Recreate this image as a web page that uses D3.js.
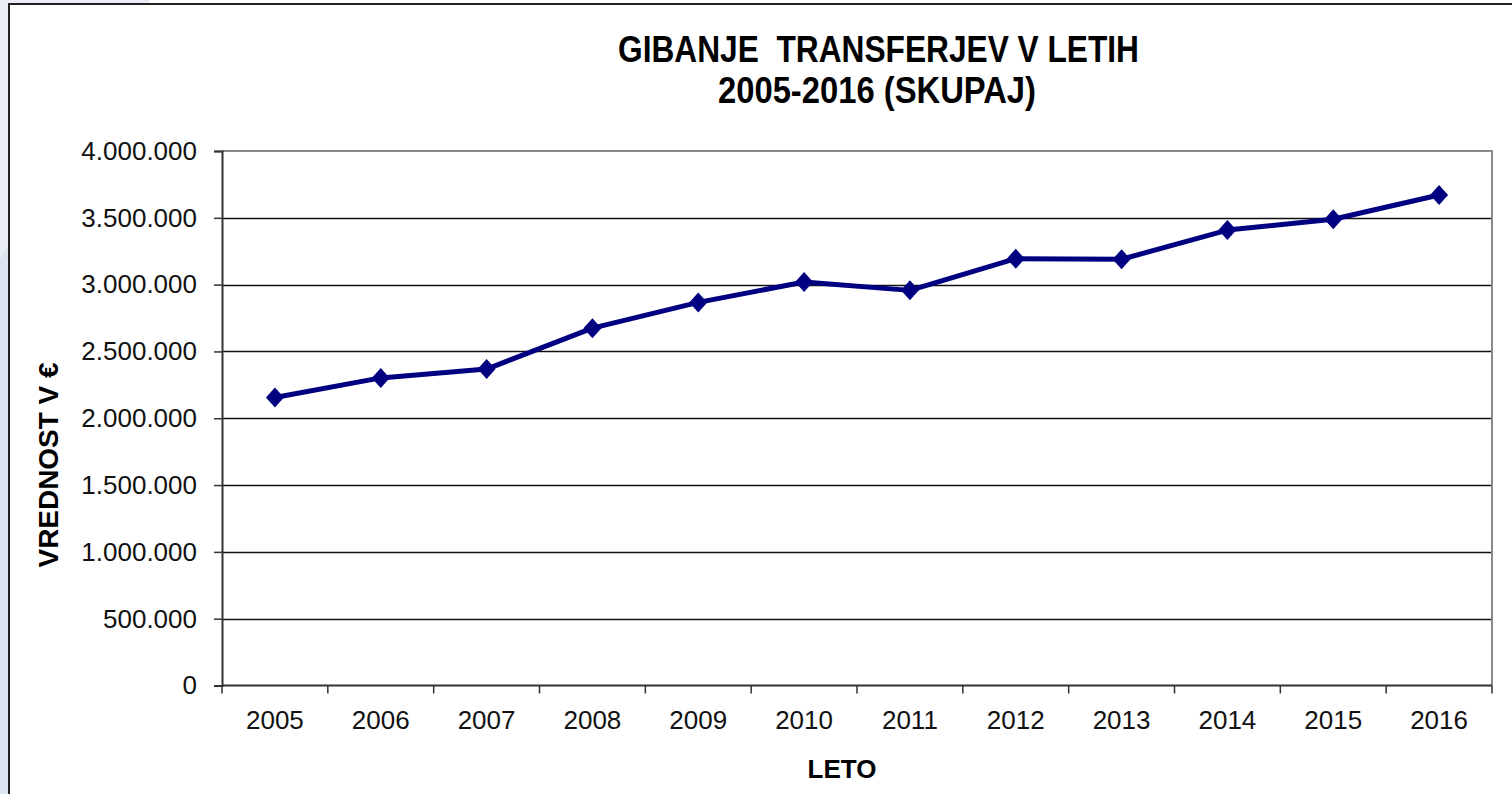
<!DOCTYPE html>
<html>
  <head>
    <meta charset="utf-8" />
    <title>Gibanje transferjev</title>
    <script src="https://d3js.org/d3.v7.min.js"></script>
    <style>
        body {
            margin: 0;
            background: #ffffff;
        }
        text {
            font-family: "Liberation Sans", Arial, sans-serif;
        }
    </style>
  </head>
  <body>
    <svg id="chart"></svg>

    <script>
        var years = ["2005", "2006", "2007", "2008", "2009", "2010", "2011", "2012", "2013", "2014", "2015", "2016"];
        var transfers = [2155000, 2302000, 2368000, 2674000, 2867000, 3020000, 2957000, 3194000, 3190000, 3408000, 3489000, 3671000];
        var yTicks = [0, 500000, 1000000, 1500000, 2000000, 2500000, 3000000, 3500000, 4000000];

        var width = 1512;
        var height = 794;
        var margin = {top: 151, right: 20, bottom: 108, left: 222};
        var plotRight = 1492;
        var plotBottom = 685.5;

        var svg = d3.select("#chart").attr("width", width).attr("height", height);

        // slide background strip and chart frame
        svg.append("rect").attr("x", 0).attr("y", 0).attr("width", 9).attr("height", height).attr("fill", "#dde5f1");
        svg.append("path").attr("d", "M0,0 L150,0 L0,260 Z").attr("fill", "#e8edf6");
        svg.append("rect").attr("x", 9).attr("y", 4).attr("width", width).attr("height", height)
            .attr("fill", "#fff").attr("stroke", "#222").attr("stroke-width", 2);

        var locale = d3.formatLocale({decimal: ",", thousands: ".", grouping: [3], currency: ["", "€"]});
        var fmt = locale.format(",");

        var x = d3.scaleBand().domain(years).range([margin.left, plotRight]);
        var y = d3.scaleLinear().domain([0, 4000000]).range([plotBottom, margin.top]);

        // gridlines
        svg.append("g").selectAll("line").data(yTicks.slice(1, -1)).enter().append("line")
            .attr("x1", margin.left).attr("x2", plotRight)
            .attr("y1", function(d){ return Math.round(y(d)) + 0.5; })
            .attr("y2", function(d){ return Math.round(y(d)) + 0.5; })
            .attr("stroke", "#111").attr("stroke-width", 1.3);

        // plot border top/right
        svg.append("path")
            .attr("d", "M" + margin.left + "," + y(4000000) + " H" + plotRight + " V" + plotBottom)
            .attr("fill", "none").attr("stroke", "#8a8a8a").attr("stroke-width", 2);

        // y axis
        var yAxis = svg.append("g").attr("transform", "translate(" + margin.left + ",0)")
            .call(d3.axisLeft(y).tickValues(yTicks).tickSize(8).tickPadding(17).tickFormat(fmt));
        yAxis.select(".domain").attr("stroke", "#333").attr("stroke-width", 2);
        yAxis.selectAll(".tick line").attr("stroke", "#333").attr("stroke-width", 1.5);
        yAxis.selectAll("text").attr("font-size", 26).attr("fill", "#111")
            .attr("font-family", "'Liberation Sans', Arial, sans-serif");

        // x axis
        var xAxis = svg.append("g").attr("transform", "translate(0," + plotBottom + ")");
        xAxis.append("line").attr("x1", margin.left).attr("x2", plotRight)
            .attr("stroke", "#333").attr("stroke-width", 2);
        var bounds = years.map(function(d){ return x(d); }).concat([plotRight]);
        xAxis.selectAll(".xt").data(bounds).enter().append("line").attr("class", "xt")
            .attr("x1", function(d){ return d; }).attr("x2", function(d){ return d; })
            .attr("y1", 0).attr("y2", 8).attr("stroke", "#333").attr("stroke-width", 1.5);
        xAxis.selectAll(".xl").data(years).enter().append("text").attr("class", "xl")
            .attr("x", function(d){ return x(d) + x.bandwidth() / 2; })
            .attr("y", 43).attr("text-anchor", "middle")
            .attr("font-size", 26).attr("fill", "#111")
            .text(function(d){ return d; });

        // line
        var line = d3.line()
            .x(function(d, i){ return x(years[i]) + x.bandwidth() / 2; })
            .y(function(d){ return y(d); });
        svg.append("path").datum(transfers).attr("d", line)
            .attr("fill", "none").attr("stroke", "#000080").attr("stroke-width", 5)
            .attr("stroke-linejoin", "round");

        // diamond markers
        svg.append("g").selectAll("path").data(transfers).enter().append("path")
            .attr("transform", function(d, i){
                return "translate(" + (x(years[i]) + x.bandwidth() / 2) + "," + y(d) + ")";
            })
            .attr("d", "M0,-10 L9,0 L0,10 L-9,0 Z")
            .attr("fill", "#000080");

        // titles (condensed bold like the original)
        var title = svg.append("g").attr("font-weight", "bold").attr("font-size", 36).attr("fill", "#000");
        title.append("text").attr("x", 618).attr("y", 62).attr("textLength", 521)
            .attr("lengthAdjust", "spacingAndGlyphs").attr("xml:space", "preserve")
            .text("GIBANJE  TRANSFERJEV V LETIH");
        title.append("text").attr("x", 718).attr("y", 103).attr("textLength", 318)
            .attr("lengthAdjust", "spacingAndGlyphs")
            .text("2005-2016 (SKUPAJ)");

        svg.append("text").attr("transform", "translate(58,465) rotate(-90)")
            .attr("text-anchor", "middle").attr("font-weight", "bold").attr("font-size", 27)
            .attr("textLength", 205).attr("lengthAdjust", "spacingAndGlyphs")
            .text("VREDNOST V €");

        svg.append("text").attr("x", 842).attr("y", 778).attr("text-anchor", "middle")
            .attr("font-weight", "bold").attr("font-size", 26).text("LETO");
    </script>
  </body>
</html>
